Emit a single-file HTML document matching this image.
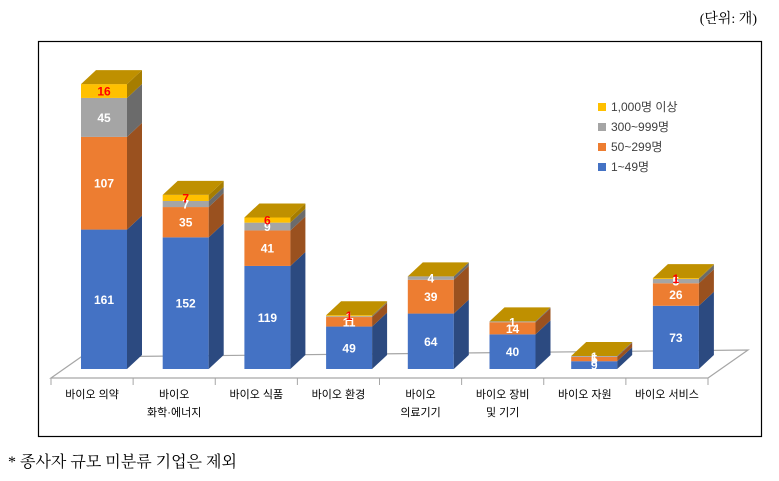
<!DOCTYPE html>
<html><head><meta charset="utf-8">
<style>
body{margin:0;background:#fff;width:779px;height:481px;overflow:hidden;font-family:"Liberation Sans","Noto Sans CJK KR",sans-serif;}
svg{display:block}
</style></head>
<body>
<svg id="chart" width="779" height="481" xmlns="http://www.w3.org/2000/svg">
<text x="757" y="23" text-anchor="end" font-size="14" font-family="Liberation Serif, Noto Serif CJK SC, serif" fill="#000">(단위: 개)</text>
<rect x="38.5" y="41.5" width="723" height="395" fill="none" stroke="#000" stroke-width="1.2"/>
<g id="floor">
<polygon points="51,378 81,357 748,350 708,378" fill="#fff" stroke="#a6a6a6" stroke-width="1.2"/>
</g>
<g id="ticks"></g>
<g id="bars"></g>
<g id="xlabels"></g>
<g font-size="12" fill="#404040">
<g><rect x="598" y="103" width="8" height="8" fill="#ffc000"/><text x="611" y="111">1,000명 이상</text></g>
<g><rect x="598" y="123" width="8" height="8" fill="#a5a5a5"/><text x="611" y="131">300~999명</text></g>
<g><rect x="598" y="143" width="8" height="8" fill="#ed7d31"/><text x="611" y="151">50~299명</text></g>
<g><rect x="598" y="163" width="8" height="8" fill="#4472c4"/><text x="611" y="171">1~49명</text></g>
</g>
<text x="8" y="467" font-size="16" font-family="Liberation Serif, Noto Serif CJK SC, serif" fill="#000">* 종사자 규모 미분류 기업은 제외</text>
</svg>
<script>
const categories=[["바이오 의약"],["바이오","화학·에너지"],["바이오 식품"],["바이오 환경"],["바이오","의료기기"],["바이오 장비","및 기기"],["바이오 자원"],["바이오 서비스"]];
const s1to49=[161,152,119,49,64,40,9,73];
const s50to299=[107,35,41,11,39,14,5,26];
const s300to999=[45,7,9,1,4,1,1,5];
const s1000plus=[16,7,6,1,0,0,0,1];
const seriesNames=["1-49","50-299","300-999","1000-plus"];
const NS="http://www.w3.org/2000/svg";
const baseY=369, scale=0.866, x0=81, step=81.7, bw=46, dx=15, dy=14;
const front=["#4472c4","#ed7d31","#a5a5a5","#ffc000"];
const side=["#2c4a80","#9a511f","#6b6b6b","#a67d00"];
const topc="#bf9000";
function xPos(i){return x0+i*step;}
function yPos(v){return baseY-v*scale;}
function mk(tag,attrs,parent){const e=document.createElementNS(NS,tag);for(const k in attrs)e.setAttribute(k,attrs[k]);parent.appendChild(e);return e;}
const bars=document.getElementById('bars');
const ticks=document.getElementById('ticks');
const xl=document.getElementById('xlabels');
const all=[s1to49,s50to299,s300to999,s1000plus];
for(let i=0;i<=categories.length;i++){
  const tx=51+i*(657/8);
  const t=mk('line',{x1:tx,y1:378,x2:tx,y2:385,stroke:'#a6a6a6'},ticks);
  
  
}
categories.forEach((c,i)=>{
  const g=mk('g',{},bars);
  
  
  const x=xPos(i);
  let cum=0;const labels=[];
  all.forEach((s,k)=>{
    const v=s[i];const y1=yPos(cum),y2=yPos(cum+v);
    if(v>0){
      const r=mk('rect',{x:x,y:y2,width:bw,height:y1-y2,fill:front[k]},g);
      
      
      mk('polygon',{points:`${x+bw},${y1} ${x+bw+dx},${y1-dy} ${x+bw+dx},${y2-dy} ${x+bw},${y2}`,fill:side[k]},g);
      labels.push([k,v,(y1+y2)/2]);
    }
    cum+=v;
  });
  const yt=yPos(cum);
  mk('polygon',{points:`${x},${yt} ${x+dx},${yt-dy} ${x+bw+dx},${yt-dy} ${x+bw},${yt}`,fill:topc},g);
  labels.forEach(([k,v,ym])=>{
    const t=mk('text',{x:x+bw/2,y:ym+4.5,'text-anchor':'middle','font-size':'12','font-weight':'bold',fill:k===3?'#ff0000':'#fff'},g);
    t.textContent=v;
    
    
  });
  const cx=51+(i+0.5)*(657/8);
  c.forEach((line,j)=>{
    const t=mk('text',{x:cx,y:398+j*18,'text-anchor':'middle','font-size':'11',fill:'#000'},xl);
    t.textContent=line;
    
    
  });
});
</script>
</body></html>
